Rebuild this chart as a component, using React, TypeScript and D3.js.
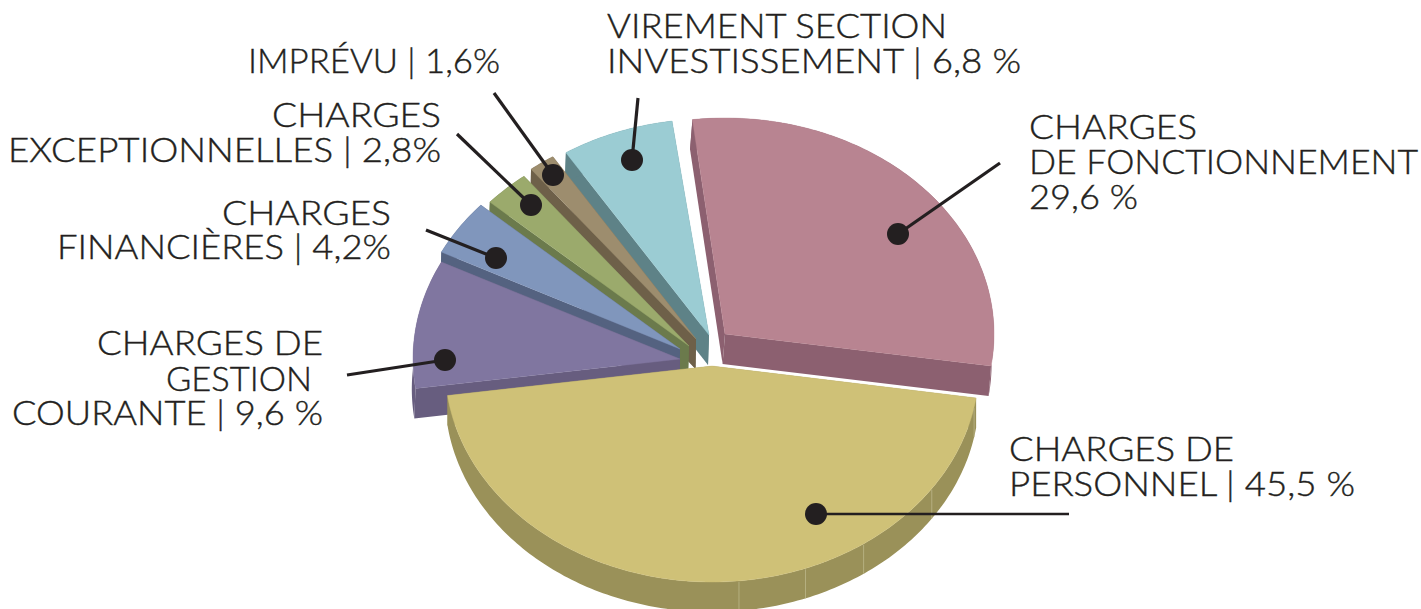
import React from "react";
import * as d3 from "d3";

const categories = ["Charges de personnel", "Charges de gestion courante", "Charges financières", "Charges exceptionnelles", "Imprévu", "Virement section investissement", "Charges de fonctionnement"];
const values = [45.5, 9.6, 4.2, 2.8, 1.6, 6.8, 29.6];
const topColors = ["#CFC177", "#8076A0", "#8096BC", "#9BAA6C", "#9D8D6E", "#9BCCD3", "#B88491"];
const wallColors = ["#9A9159", "#675D7F", "#546280", "#6B7A4C", "#6E6049", "#5E8287", "#8C6070"];
const apexX = [712, 680, 680, 689, 696, 709, 725];
const apexY = [366, 359, 349, 346, 339, 335, 334];
const radiusX = [267, 267, 267, 267, 267, 267, 269];
const wallShift = [0, -1.2, -1, -1, -0.5, -1, -2.4];
const startNudge = [0, 0, 0, 0, 0, 0, 1];
const paintOrder = [6, 5, 4, 3, 2, 1, 0];
const seamDegrees = [11, 34.6, 55.4, 69.5, 84.2];

const W = 1421, H = 609, RY = 216, DEPTH = 30, START = (98.5 * Math.PI) / 180;
const INK = "#231F20";

type Label = { lines: string[]; anchor: "start" | "end"; y: number[]; left: number[]; right: number[] };
const labels: Label[] = [
  { lines: ["VIREMENT SECTION", "INVESTISSEMENT | 6,8 %"], anchor: "start", y: [38, 73], left: [607, 607], right: [947, 1021] },
  { lines: ["CHARGES", "DE FONCTIONNEMENT", "29,6 %"], anchor: "start", y: [139, 174, 209], left: [1029, 1029, 1029], right: [1197, 1418, 1138] },
  { lines: ["IMPRÉVU | 1,6%"], anchor: "end", y: [73], left: [248], right: [500] },
  { lines: ["CHARGES", "EXCEPTIONNELLES | 2,8%"], anchor: "end", y: [127, 162], left: [272, 8], right: [441, 441] },
  { lines: ["CHARGES", "FINANCIÈRES | 4,2%"], anchor: "end", y: [225, 259], left: [222, 57], right: [391, 391] },
  { lines: ["CHARGES DE", "GESTION", "COURANTE | 9,6 %"], anchor: "end", y: [355, 391, 425], left: [97, 166, 12], right: [323, 312, 323] },
  { lines: ["CHARGES DE", "PERSONNEL | 45,5 %"], anchor: "start", y: [461, 496], left: [1009, 1009], right: [1234, 1355] },
];

const leaders = [
  { from: [1069, 514], dot: [816, 514], w: 2.6 },
  { from: [347, 375], dot: [445, 360], w: 3.2 },
  { from: [426, 230], dot: [496, 258], w: 3.2 },
  { from: [457, 134], dot: [531, 205], w: 3.2 },
  { from: [494, 93], dot: [553, 175], w: 3.2 },
  { from: [638, 98], dot: [632, 160], w: 3.2 },
  { from: [1000, 163], dot: [898, 234], w: 3.2 },
];

const pie = d3.pie<number>().sort(null).startAngle(START).endAngle(START + 2 * Math.PI)(values);
const line = d3.line().curve(d3.curveLinear);
const rim = (a: number, rx: number): [number, number] => [rx * Math.sin(a), -RY * Math.cos(a)];

function arcPoints(a0: number, a1: number, rx: number) {
  const n = Math.max(6, Math.ceil((a1 - a0) * 60));
  return d3.range(n + 1).map((i) => rim(a0 + ((a1 - a0) * i) / n, rx));
}
function outerWall(a0: number, a1: number, rx: number, dx: number) {
  const top = arcPoints(a0, a1, rx);
  const bottom = top.slice().reverse().map(([x, y]) => [x + dx, y + DEPTH] as [number, number]);
  return line([...top, ...bottom]) + "Z";
}
function radialFace(a: number, rx: number, dx: number) {
  const [x, y] = rim(a, rx);
  return line([[0, 0], [x, y], [x + dx, y + DEPTH], [dx, DEPTH]]) + "Z";
}
function topFace(a0: number, a1: number, rx: number) {
  return line([[0, 0], ...arcPoints(a0, a1, rx)]) + "Z";
}

export default function App() {
  return (
    <svg width={W} height={H} viewBox={`0 0 ${W} ${H}`} style={{ position: "absolute", left: 0, top: 0, background: "#fff" }}>
      {paintOrder.map((i) => {
        const s = pie[i];
        const rx = radiusX[i];
        const dx = wallShift[i];
        const a0 = s.startAngle + (startNudge[i] * Math.PI) / 180;
        return (
          <g key={categories[i]} transform={`translate(${apexX[i]},${apexY[i]})`}>
            <path d={radialFace(a0, rx, dx)} fill={wallColors[i]} />
            <path d={radialFace(s.endAngle, rx, dx)} fill={wallColors[i]} />
            <path d={outerWall(a0, s.endAngle, rx, dx)} fill={wallColors[i]} />
            <path d={topFace(a0, s.endAngle, rx)} fill={topColors[i]} stroke={topColors[i]} strokeWidth={0.4} />
            {i === 0 &&
              seamDegrees.map((d) => {
                const [x, y] = rim(Math.PI / 2 + (d * Math.PI) / 180, rx);
                return <line key={d} x1={x} x2={x} y1={y + 1} y2={y + DEPTH} stroke="#BDB68A" strokeWidth={0.8} />;
              })}
          </g>
        );
      })}
      {leaders.map((l, i) => (
        <g key={i}>
          <line x1={l.from[0]} y1={l.from[1]} x2={l.dot[0]} y2={l.dot[1]} stroke={INK} strokeWidth={l.w} />
          <circle cx={l.dot[0]} cy={l.dot[1]} r={11} fill={INK} />
        </g>
      ))}
      {labels.map((lab) =>
        lab.lines.map((t, j) => (
          <text
            key={t + j}
            x={lab.anchor === "start" ? lab.left[j] : lab.right[j]}
            y={lab.y[j]}
            textAnchor={lab.anchor}
            textLength={lab.right[j] - lab.left[j]}
            lengthAdjust="spacingAndGlyphs"
            fontFamily="Lato, sans-serif"
            fontWeight={300}
            fontSize={33}
            fill={INK}
            stroke={INK}
            strokeWidth={0.4}
          >
            {t}
          </text>
        ))
      )}
    </svg>
  );
}
